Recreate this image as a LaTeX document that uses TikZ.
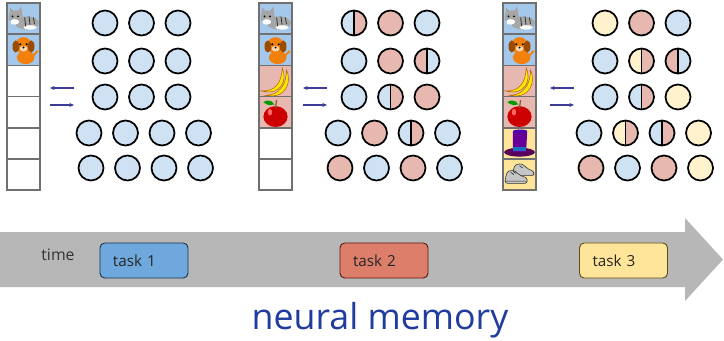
\documentclass[tikz,border=0pt]{standalone}
\usepackage{fontspec}
\setmainfont{Open Sans}
\usetikzlibrary{arrows.meta}

\definecolor{neuronb}{HTML}{CFE2F3}
\definecolor{neuronp}{HTML}{E6B8AF}
\definecolor{neurony}{HTML}{FFF2CC}
\definecolor{memb}{HTML}{A4C8EC}
\definecolor{memp}{HTML}{E6B8AF}
\definecolor{memy}{HTML}{FFE599}
\definecolor{slotgray}{HTML}{707070}
\definecolor{rwblue}{HTML}{3D3D99}
\definecolor{bandgray}{HTML}{B7B7B7}
\definecolor{titleblue}{HTML}{1F3C9E}
\definecolor{taskb}{HTML}{6FA8DC}
\definecolor{taskbline}{HTML}{1C3550}
\definecolor{taskp}{HTML}{DD7E6B}
\definecolor{taskpline}{HTML}{5B1A10}
\definecolor{tasky}{HTML}{FFE599}
\definecolor{taskyline}{HTML}{5E4E18}

% one unit in the memory network, left and right half coloured
\newcommand{\neuron}[4]{%
  \edef\nleft{#3}\edef\nright{#4}%
  \ifx\nleft\nright
    \fill[neuron\nleft] (#1,#2) circle[radius=12.5];
  \else
    \fill[neuron\nleft] (#1,#2) ++(0,-12.5) arc[start angle=-90,end angle=-270,radius=12.5] -- cycle;
    \fill[neuron\nright] (#1,#2) ++(0,-12.5) arc[start angle=-90,end angle=90,radius=12.5] -- cycle;
    \draw[cell] (#1,#2) ++(0,-12.5) -- ++(0,25);
  \fi
  \draw[cell] (#1,#2) circle[radius=12.5];}

\tikzset{
  cat/.pic={
    \fill[gray!70] (3,4) ellipse[x radius=11,y radius=6];
    \fill[gray!70] (-7,-1) circle[radius=6.5];
    \fill[gray!70] (-13,-3) -- (-12,-10) -- (-8,-6) -- cycle;
    \fill[gray!70] (-5,-7) -- (-2,-11) -- (-1,-4) -- cycle;
    \fill[white] (-8,3) ellipse[x radius=4,y radius=2.5];
    \fill[white] (6,8) ellipse[x radius=6,y radius=2];
    \draw[gray!40!black, line width=0.7] (1,-1) -- (2,7) (5,-2) -- (6,6) (9,-1) -- (10,5);
    \fill[black] (-10,-2) circle[radius=0.9] (-5,-2) circle[radius=0.9];
  },
  dog/.pic={
    \fill[orange!80!brown] (2,7) ellipse[x radius=8,y radius=6];
    \draw[orange!80!brown, line width=1.6] (8,6) -- (13,1);
    \fill[orange!80!brown] (0,-4) circle[radius=7.5];
    \fill[orange!60!black] (-7,-3) ellipse[x radius=3,y radius=5.5]
                           (7,-3) ellipse[x radius=3,y radius=5.5];
    \fill[orange!30] (0,-1) ellipse[x radius=3.5,y radius=2.5];
    \fill[black] (-3,-5) circle[radius=1] (3,-5) circle[radius=1] (0,-2) circle[radius=1];
  },
  banana/.pic={
    \fill[yellow!90!orange, draw=orange!70!black, line width=0.4]
      (-13,9) .. controls (-1,10) and (6,2) .. (6,-12)
      .. controls (11,-2) and (6,14) .. (-13,9) -- cycle;
    \fill[yellow!90!orange, draw=orange!70!black, line width=0.4]
      (-9,13) .. controls (3,13) and (10,4) .. (10,-10)
      .. controls (15,0) and (10,17) .. (-9,13) -- cycle;
  },
  apple/.pic={
    \fill[red!80!black] (0,4) ellipse[x radius=11,y radius=9.5];
    \fill[red!60] (-5,0) ellipse[x radius=2,y radius=3];
    \draw[brown!70!black, line width=1] (0,-4) -- (1,-11);
    \fill[green!60!black] (-1,-7) .. controls (-4,-12) and (-9,-11) .. (-11,-9)
      .. controls (-7,-6) and (-4,-6) .. (-1,-7) -- cycle;
  },
  hat/.pic={
    \fill[violet!70!black] (0,8) ellipse[x radius=14,y radius=4];
    \fill[violet!80!blue] (-6,-11) -- (7,-11) -- (6,8) -- (-6,8) -- cycle;
    \fill[violet!60!blue] (0.5,-11) ellipse[x radius=6.5,y radius=1.6];
    \fill[cyan!50!blue] (-6,3) rectangle (6.3,7);
  },
  shoes/.pic={
    % back shoe, then front shoe with laces
    \fill[gray!45, draw=gray!40!black, line width=0.5, rounded corners=2]
      (-6,-3) -- (-4,-9) -- (2,-10) -- (8,-5) -- (13,-3) -- (13,1) -- (-6,1) -- cycle;
    \fill[gray!45, draw=gray!40!black, line width=0.5, rounded corners=2]
      (-13,4) -- (-11,-3) -- (-5,-4) -- (1,1) -- (7,3) -- (7,8) -- (-13,8) -- cycle;
    \draw[gray!30!black, line width=0.5] (-13,6) -- (7,6) (-8,-2) -- (-5,0) (-6,-3) -- (-3,-1)
      (0,-8) -- (3,-6);
  },
}

\begin{document}
\begin{tikzpicture}[x=0.03cm, y=-0.03cm,
  cell/.style={line width=1.5pt},
  slot/.style={draw=slotgray, line width=1.4pt},
  rw/.style={-{Stealth[length=4pt,width=3.5pt]}, line width=0.9pt, draw=rwblue},
  task/.style={rounded corners=4pt, line width=0.8pt, text=black!85,
    minimum height=1.05cm, text width=1.86cm, inner xsep=0.39cm, align=left,
    font=\fontsize{13}{15}\selectfont}]
\useasboundingbox (0,0) rectangle (724,341);

% memory columns, filled up to the current task
\foreach \px/\n in {7/2,259/4,503/6}{
  \foreach \thing/\bg [count=\i from 0] in {cat/memb,dog/memb,banana/memp,apple/memp,hat/memy,shoes/memy}{
    \ifnum\i<\n
      \fill[\bg] (\px,3+31.2*\i) rectangle ++(33,31.2);
      \pic[scale=1.1] at (\px+16.5,18.6+31.2*\i) {\thing};
    \fi
    \draw[slot] (\px,3+31.2*\i) rectangle ++(33,31.2);
  }
}

% read / write arrows
\foreach \p/\x in {1/50,2/303,3/550}{
  \coordinate (m\p t) at (\x,88);    \coordinate (n\p t) at (\x+24,88);
  \coordinate (m\p b) at (\x,105);   \coordinate (n\p b) at (\x+24,105);
  \draw[rw] (n\p t) -- (m\p t);
  \draw[rw] (m\p b) -- (n\p b);
}

% network after task 1
\foreach \y/\xs/\cells in {23/105/{b/b,b/b,b/b},61/105/{b/b,b/b,b/b},97/105/{b/b,b/b,b/b},
    133/89/{b/b,b/b,b/b,b/b},168/91/{b/b,b/b,b/b,b/b}}
  \foreach \lc/\rc [count=\i from 0] in \cells
    \neuron{\xs+36.5*\i}{\y}{\lc}{\rc};

% network after task 2
\foreach \y/\xs/\cells in {23/354/{b/p,p/p,b/b},61/354/{b/b,p/p,p/b},97/354/{b/b,b/p,p/p},
    133/338/{b/b,p/p,b/p,b/b},168/340/{p/p,b/b,p/p,b/b}}
  \foreach \lc/\rc [count=\i from 0] in \cells
    \neuron{\xs+36.5*\i}{\y}{\lc}{\rc};

% network after task 3
\foreach \y/\xs/\cells in {23/605/{y/y,p/p,b/b},61/605/{b/b,y/p,p/b},97/605/{b/b,b/p,y/y},
    133/589/{b/b,y/p,b/p,y/y},168/591/{p/p,b/b,p/p,y/y}}
  \foreach \lc/\rc [count=\i from 0] in \cells
    \neuron{\xs+36.5*\i}{\y}{\lc}{\rc};

% time line
\fill[bandgray] (0,232) -- (685,232) -- (685,218) -- (723,259.5) -- (685,301)
  -- (685,287) -- (0,287) -- cycle;
\node[text=black!80, font=\fontsize{13.5}{15}\selectfont] (time) at (58,255) {time};
\node[task, fill=taskb, draw=taskbline] (task1) at (144,260.5) {task 1};
\node[task, fill=taskp, draw=taskpline] (task2) at (384,260.5) {task 2};
\node[task, fill=tasky, draw=taskyline] (task3) at (623.5,260.5) {task 3};

\node[text=titleblue, font=\fontsize{30.5}{35}\selectfont] (title) at (380,320) {neural memory};
\end{tikzpicture}
\end{document}
